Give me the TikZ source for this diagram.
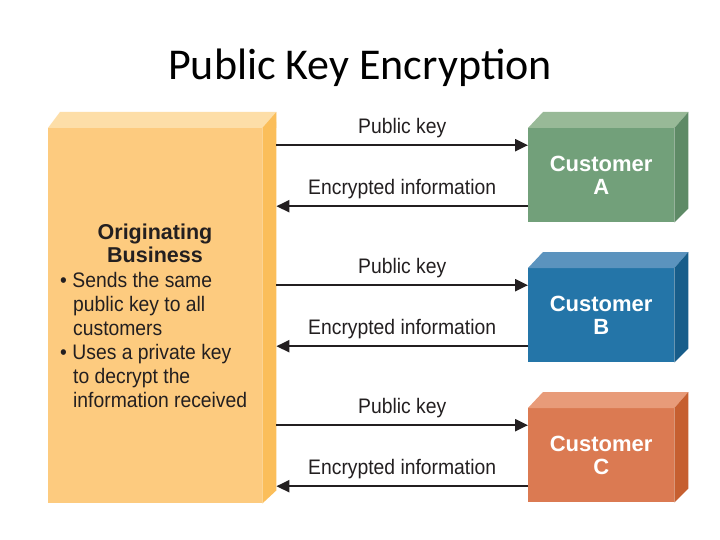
\documentclass[tikz,border=0pt]{standalone}
\usepackage{fontspec}
\setmainfont{Liberation Sans}
\newfontfamily\condfont[FakeStretch=0.92]{Liberation Sans}
\newfontfamily\titlefont{Carlito}
\usetikzlibrary{arrows.meta}
\definecolor{bizF}{HTML}{FDCB7F}
\definecolor{bizT}{HTML}{FDDEA8}
\definecolor{bizS}{HTML}{FBBE5A}
\definecolor{aF}{HTML}{72A07A}
\definecolor{aT}{HTML}{98B997}
\definecolor{aS}{HTML}{5E8A66}
\definecolor{bF}{HTML}{2475A8}
\definecolor{bT}{HTML}{5B93BE}
\definecolor{bS}{HTML}{175D8A}
\definecolor{cF}{HTML}{DB7A52}
\definecolor{cT}{HTML}{E89B79}
\definecolor{cS}{HTML}{C65F30}
\definecolor{txt}{HTML}{231F20}
\tikzset{
  front/.style={rectangle, inner sep=0pt, anchor=north west},
  custbox/.style={front, minimum width=146pt, minimum height=94pt, text=white,
     font=\fontsize{22}{23}\selectfont\bfseries, align=center},
  arr/.style={line width=2.2pt, draw=txt, -{Triangle[length=13pt,width=12pt]}},
  lbl/.style={font=\condfont\fontsize{21}{24}\selectfont, text=txt, above, inner sep=0pt}
}
\begin{document}
\begin{tikzpicture}[x=1pt,y=-1pt]
\useasboundingbox (0,0) rectangle (720,540);
\fill[white] (0,0) rectangle (720,540);
\node[font=\titlefont\fontsize{44}{48}\selectfont] (title) at (360,68) {Public Key Encryption};
% business box
\node[front, fill=bizF, minimum width=214pt, minimum height=375pt] (biz) at (48,128) {};
\fill[bizT] (biz.north west) -- ++(12,-16) -- ++(216,0) -- ([xshift=14pt]biz.north east) -- (biz.north east) -- cycle;
\fill[bizS] (biz.north east) -- ([xshift=14pt,yshift=16pt]biz.north east) -- ([xshift=14pt,yshift=13pt]biz.south east) -- (biz.south east) -- cycle;
\node[font=\fontsize{21.5}{23}\selectfont\bfseries, text=txt, align=center] (bizT) at (155,243) {Originating\\Business};
\node[font=\condfont\fontsize{21}{24}\selectfont, text=txt, align=left, anchor=north west, inner sep=0pt] (bizL) at (60,272)
 {\textbullet\hspace{5.5pt}Sends the same\\\hspace*{13pt}public key to all\\\hspace*{13pt}customers\\\textbullet\hspace{5.5pt}Uses a private key\\\hspace*{13pt}to decrypt the\\\hspace*{13pt}information received};
\coordinate (bizR) at ([xshift=14pt]biz.east);
% customers
\foreach \n/\y/\L/\F/\T/\S in {A/128/A/aF/aT/aS, B/268/B/bF/bT/bS, C/408/C/cF/cT/cS}{
  \node[custbox, fill=\F] (cust\n) at (528,\y) {\rule{0pt}{6pt}Customer\\\L};
  \fill[\T] (cust\n.north west) -- ([xshift=15pt,yshift=16pt]cust\n.north west) -- ([xshift=14pt,yshift=16pt]cust\n.north east) -- (cust\n.north east) -- cycle;
  \fill[\S] (cust\n.north east) -- ([xshift=14pt,yshift=16pt]cust\n.north east) -- ([xshift=14pt,yshift=14pt]cust\n.south east) -- (cust\n.south east) -- cycle;
  \coordinate (top\n) at ([yshift=30pt]cust\n.west);
  \coordinate (bot\n) at ([yshift=-31pt]cust\n.west);
  \draw[arr] (bizR |- top\n) -- node[lbl, yshift=6pt] {Public key} (top\n);
  \draw[arr] (bot\n) -- node[lbl, yshift=6pt] {Encrypted information} (bizR |- bot\n);
}
\end{tikzpicture}
\end{document}
